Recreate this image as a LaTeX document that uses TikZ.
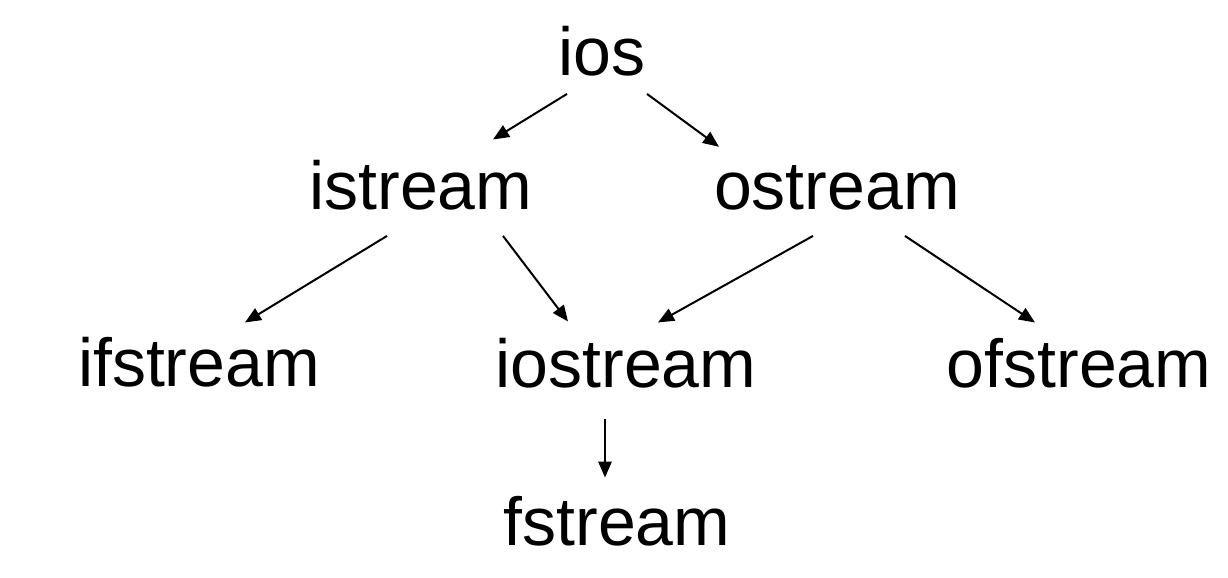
\documentclass[tikz,border=0pt]{standalone}
\usepackage{fontspec}
\setmainfont{Liberation Sans}
\usetikzlibrary{arrows.meta}

\begin{document}
\begin{tikzpicture}[x=0.75pt, y=-0.75pt,
		cls/.style={anchor=base, inner sep=0pt, font=\fontsize{51}{60}\selectfont},
		inh/.style={-{Triangle[length=12pt,width=10pt]}, line width=1.5pt}]
		\useasboundingbox (0, 0) rectangle (1228, 578);
		\node[cls] (ios) at (602, 75) {ios};
		\node[cls] (istream) at (421, 209) {istream};
		\node[cls] (ostream) at (837, 209) {ostream};
		\node[cls] (ifstream) at (199, 386) {ifstream};
		\node[cls] (iostream) at (626, 387) {iostream};
		\node[cls] (ofstream) at (1079, 387) {ofstream};
		\node[cls] (fstream) at (617, 545) {fstream};
		\draw[inh] ([shift={(-35, 18)}]ios.south) -- ([shift={(72, -20)}]istream.north);
		\draw[inh] ([shift={(45, 18)}]ios.south) -- ([shift={(-118, -18)}]ostream.north);
		\draw[inh] ([shift={(-34, 26)}]istream.south) -- ([shift={(46, -14)}]ifstream.north);
		\draw[inh] ([shift={(82, 26)}]istream.south) -- ([shift={(-58, -16)}]iostream.north);
		\draw[inh] ([shift={(-24, 26)}]ostream.south) -- ([shift={(32, -15)}]iostream.north);
		\draw[inh] ([shift={(68, 26)}]ostream.south) -- ([shift={(-44, -15)}]ofstream.north);
		\draw[inh] ([shift={(-21, 31)}]iostream.south) -- ([shift={(-12, -18)}]fstream.north);
	\end{tikzpicture}
\end{document}
